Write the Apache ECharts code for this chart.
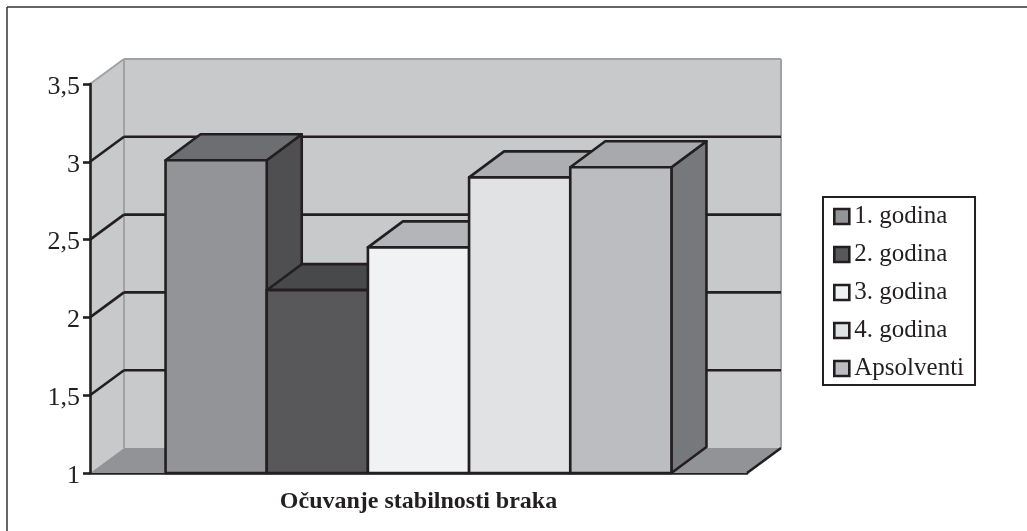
<!DOCTYPE html>
<html>
<head>
<meta charset="utf-8">
<style>
  html, body { margin: 0; padding: 0; background: #fff; }
  #chart { width: 1027px; height: 531px; }
</style>
<script src="https://cdn.jsdelivr.net/npm/echarts@6/dist/echarts.min.js"></script>
</head>
<body>
<div id="chart"></div>
<script>
const categories = ['Očuvanje stabilnosti braka']
const seriesNames = ['1. godina', '2. godina', '3. godina', '4. godina', 'Apsolventi']
const seriesValues = [3.01, 2.175, 2.45, 2.9, 2.965]
const gridValues = [1.5, 2, 2.5, 3]

// front, top, side
const barColors = [
  ['#939497', '#6d6e71', '#4f4f51'],
  ['#58585a', '#48494b', '#48494b'],
  ['#f1f2f3', '#b4b5b8', '#a7a9ac'],
  ['#e1e2e4', '#adaeb1', '#a7a9ac'],
  ['#bcbdc0', '#a7a9ac', '#77787b']
]

const ink = '#231f20'
const wallDepthX = 34
const wallDepthY = -25
const barDepthX = 35
const barDepthY = -26
const barShare = 0.154
const stroke = 2.6

function poly(points, fill, lineColor, width) {
  return {
    type: 'polygon',
    shape: { points },
    style: { fill, stroke: lineColor || 'none', lineWidth: width || 0, lineJoin: 'round' }
  }
}

function line(p1, p2, lineColor, width) {
  return {
    type: 'line',
    shape: { x1: p1[0], y1: p1[1], x2: p2[0], y2: p2[1] },
    style: { stroke: lineColor, lineWidth: width }
  }
}

function renderWalls(params, api) {
  const bw = api.size([1, 0])[0]
  const c = api.coord([0, 1])
  const t = api.coord([0, 3.5])
  const l = c[0] - bw / 2
  const r = c[0] + bw / 2
  const dx = wallDepthX
  const dy = wallDepthY
  const wall = '#c8c9cb'
  const edge = '#a0a2a5'
  const children = [
    poly([[l + dx, t[1] + dy], [r + dx, t[1] + dy], [r + dx, c[1] + dy], [l + dx, c[1] + dy]], wall),
    poly([[l, t[1]], [l + dx, t[1] + dy], [l + dx, c[1] + dy], [l, c[1]]], wall),
    poly([[l, c[1]], [l + dx, c[1] + dy], [r + dx, c[1] + dy], [r, c[1]]], '#929396'),
    line([l, t[1]], [l + dx, t[1] + dy], edge, 2),
    line([l + dx, t[1] + dy], [r + dx, t[1] + dy], edge, 2),
    line([l + dx, t[1] + dy], [l + dx, c[1] + dy], edge, 2),
    line([r + dx, t[1] + dy], [r + dx, c[1] + dy], edge, 2),
    line([r, c[1]], [r + dx, c[1] + dy], ink, stroke)
  ]
  gridValues.forEach(function (v) {
    const y = api.coord([0, v])[1]
    children.push(line([l, y], [l + dx, y + dy], ink, stroke))
    children.push(line([l + dx, y + dy], [r + dx, y + dy], ink, stroke))
  })
  return { type: 'group', children }
}

function renderBar(params, api) {
  const idx = params.seriesIndex - 1
  const bw = api.size([1, 0])[0]
  const w = bw * barShare
  const c = api.coord([0, 1])
  const top = api.coord([0, api.value(1)])[1]
  const x0 = c[0] - w * 2.5 + idx * w
  const x1 = x0 + w
  const dx = barDepthX
  const dy = barDepthY
  const col = barColors[idx]
  return {
    type: 'group',
    children: [
      poly([[x1, c[1]], [x1 + dx, c[1] + dy], [x1 + dx, top + dy], [x1, top]], col[2], ink, stroke),
      poly([[x0, top], [x0 + dx, top + dy], [x1 + dx, top + dy], [x1, top]], col[1], ink, stroke),
      poly([[x0, top], [x1, top], [x1, c[1]], [x0, c[1]]], col[0], ink, stroke)
    ]
  }
}

const chart = echarts.init(document.getElementById('chart'), null, { renderer: 'canvas' })

chart.setOption({
  animation: false,
  backgroundColor: '#fff',
  textStyle: { fontFamily: 'Liberation Serif' },
  graphic: [
    { type: 'line', shape: { x1: 7, y1: 7, x2: 1027, y2: 7 }, style: { stroke: '#333', lineWidth: 1.5 } },
    { type: 'line', shape: { x1: 7, y1: 7, x2: 7, y2: 531 }, style: { stroke: '#333', lineWidth: 1.5 } }
  ],
  legend: {
    orient: 'vertical',
    left: 823,
    top: 197,
    padding: [6, 11, 3, 10],
    icon: 'rect',
    itemWidth: 15,
    itemHeight: 15,
    itemGap: 11,
    borderColor: ink,
    borderWidth: 2,
    itemStyle: { borderColor: ink, borderWidth: 2.6 },
    data: seriesNames,
    textStyle: { fontFamily: 'Liberation Serif', fontSize: 25, color: ink, lineHeight: 31, height: 25, verticalAlign: 'top', padding: [2, 0, 0, 0] }
  },
  grid: { left: 90, right: 280, top: 84, bottom: 58 },
  xAxis: {
    type: 'category',
    data: categories,
    axisLine: { lineStyle: { color: ink, width: stroke } },
    axisTick: { length: 8, lineStyle: { color: ink, width: stroke } },
    axisLabel: { margin: 17, fontSize: 24, fontWeight: 'bold', color: ink, fontFamily: 'Liberation Serif' }
  },
  yAxis: {
    type: 'value',
    min: 1,
    max: 3.5,
    interval: 0.5,
    z: 5,
    axisLine: { show: true, lineStyle: { color: ink, width: stroke } },
    axisTick: { show: true, length: 7, lineStyle: { color: ink, width: stroke } },
    splitLine: { show: false },
    axisLabel: {
      margin: 10,
      formatter: function (v) { return '{v|' + String(v).replace('.', ',') + '}' },
      rich: {
        v: { fontSize: 26, color: ink, fontFamily: 'Liberation Serif', padding: [6, 0, 0, 0] }
      }
    }
  },
  series: [
    { type: 'custom', name: 'walls', renderItem: renderWalls, z: 1, data: [[0, 1]], silent: true }
  ].concat(seriesNames.map(function (name, i) {
    return {
      type: 'custom',
      name,
      renderItem: renderBar,
      z: 2 + i,
      encode: { x: 0, y: 1 },
      itemStyle: { color: barColors[i][0], borderColor: ink, borderWidth: stroke },
      data: [[0, seriesValues[i]]]
    }
  }))
})
</script>
</body>
</html>
